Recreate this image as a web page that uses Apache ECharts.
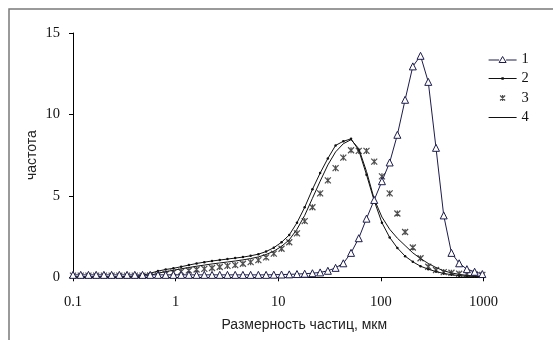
<!DOCTYPE html>
<html>
<head>
<meta charset="utf-8">
<script src="https://cdn.jsdelivr.net/npm/echarts@6/dist/echarts.min.js"></script>
<style>
html,body{margin:0;padding:0;background:#fff;}
#chart{width:553px;height:340px;}
</style>
</head>
<body>
<div id="chart"></div>
<script>
// particle sizes, µm
var sizes = [0.1,0.1189,0.1414,0.1682,0.2,0.2378,0.2828,0.3364,0.4,0.4757,
  0.5657,0.6727,0.8,0.9514,1.1314,1.3454,1.6,1.9027,2.2627,2.6909,
  3.2,3.8055,4.5255,5.3817,6.4,7.611,9.051,10.763,12.8,15.22,
  18.1,21.53,25.6,30.44,36.2,43.05,51.2,60.89,72.41,86.11,
  102.4,121.8,144.8,172.2,204.8,243.5,289.6,344.4,409.6,487.1,
  579.3,688.9,819.2,974.2];
var s1 = [0.15,0.15,0.15,0.15,0.15,0.15,0.15,0.15,0.15,0.15,
  0.15,0.15,0.15,0.15,0.15,0.15,0.15,0.15,0.15,0.15,
  0.15,0.15,0.15,0.15,0.15,0.15,0.16,0.17,0.18,0.2,
  0.22,0.25,0.3,0.4,0.58,0.86,1.5,2.4,3.6,4.75,
  5.9,7.05,8.75,10.9,12.95,13.6,12.0,7.95,3.8,1.5,
  0.86,0.5,0.34,0.2];
var s2 = [0.03,0.03,0.03,0.03,0.03,0.03,0.03,0.05,0.07,0.12,
  0.25,0.38,0.48,0.55,0.65,0.75,0.85,0.93,1.0,1.06,
  1.12,1.18,1.24,1.32,1.42,1.58,1.82,2.15,2.6,3.35,
  4.3,5.4,6.4,7.3,8.1,8.35,8.5,7.8,6.3,4.7,
  3.35,2.45,1.8,1.3,0.95,0.68,0.5,0.35,0.24,0.16,
  0.1,0.07,0.05,0.04];
var s3 = [0.1,0.1,0.1,0.1,0.1,0.1,0.1,0.1,0.1,0.1,
  0.12,0.15,0.2,0.3,0.35,0.42,0.48,0.52,0.57,0.63,
  0.7,0.75,0.83,0.93,1.05,1.22,1.45,1.75,2.15,2.7,
  3.45,4.3,5.15,5.95,6.7,7.35,7.8,7.76,7.76,7.1,
  6.2,5.15,3.92,2.78,1.83,1.17,0.65,0.45,0.32,0.28,
  0.22,0.2,0.18,0.15];
var s4 = [0.02,0.02,0.02,0.02,0.02,0.02,0.02,0.02,0.02,0.06,
  0.12,0.25,0.35,0.43,0.52,0.6,0.68,0.75,0.82,0.88,
  0.94,1.0,1.07,1.15,1.25,1.4,1.6,1.9,2.3,2.95,
  3.8,4.85,5.9,6.9,7.7,8.2,8.45,7.9,6.5,4.8,
  3.7,2.95,2.4,1.95,1.5,1.15,0.85,0.6,0.4,0.27,
  0.18,0.12,0.08,0.05];
var seriesNames = ['1','2','3','4'];
var xTickLabels = ['0.1','1','10','100','1000'];
var yTicks = [0,5,10,15];

function pairs(ys){ return sizes.map(function(x,i){ return [x, ys[i]]; }); }

var navy = '#1c1c4e';
var ink = '#111111';
var serif = 'Liberation Serif';
var sans = 'Liberation Sans';
var starPath = 'path://M0,0 L10,10 M10,0 L0,10 M5,0 L5,10';
var triLinePath = 'path://M0,0 M28,9 M0,5.5 L10.5,5.5 M17.5,5.5 L28,5.5 M14,2 L17.5,8 L10.5,8 Z';
var dotLinePath = 'path://M0,0 M28,9 M0,4 L28,4 L28,5 L0,5 Z M12.8,3.2 L15.2,3.2 L15.2,5.8 L12.8,5.8 Z';
var lineOnlyPath = 'path://M0,0 M28,9 M0,4 L28,4 L28,5 L0,5 Z';
var starLegendPath = 'path://M0,0 M28,9 M11.5,2 L16.5,7 M16.5,2 L11.5,7 M14,1.5 L14,7.5';

var chart = echarts.init(document.getElementById('chart'), null, {renderer:'canvas'});
chart.setOption({
  backgroundColor:'#ffffff',
  animation:false,
  graphic:[{type:'rect', shape:{x:9,y:9,width:600,height:400},
    style:{fill:'none', stroke:'#7a7a7a', lineWidth:1.5}, silent:true}],
  grid:{left:73, top:33, width:410.5, height:244.3, containLabel:false},
  legend:{
    orient:'vertical', left:483, top:46, itemWidth:28, itemHeight:9, itemGap:3.5,
    textStyle:{fontFamily:serif, fontSize:14.5, color:'#111', lineHeight:16},
    data:[
      {name:'1', icon: triLinePath, itemStyle:{color:'#ffffff', borderColor:navy, borderWidth:1}},
      {name:'2', icon: dotLinePath, itemStyle:{color:ink, borderWidth:0}},
      {name:'3', icon: starLegendPath, itemStyle:{color:'#222', borderColor:'#222', borderWidth:1.2}},
      {name:'4', icon: lineOnlyPath, itemStyle:{color:ink, borderWidth:0}}
    ]
  },
  xAxis:{
    type:'log', logBase:10, min:0.1, max:1000,
    name:'Размерность частиц, мкм', nameLocation:'middle', nameGap:41,
    nameTextStyle:{fontFamily:sans, fontSize:14, color:'#222', padding:[0,0,0,52]},
    axisLine:{show:true, lineStyle:{color:'#000', width:1}},
    axisTick:{show:true, inside:false, length:4, lineStyle:{color:'#000'}},
    minorTick:{show:false},
    splitLine:{show:false},
    axisLabel:{margin:17, fontFamily:serif, fontSize:14.5, color:'#111',
      formatter:function(v){
        var lg = Math.round(Math.log10(v));
        return xTickLabels[lg+1] !== undefined ? xTickLabels[lg+1] : String(v);
      }}
  },
  yAxis:{
    type:'value', min:0, max:15, interval:5,
    name:'частота', nameLocation:'middle', nameGap:34, nameRotate:90,
    nameMoveOverlap:false,
    nameTextStyle:{fontFamily:sans, fontSize:14, color:'#222'},
    axisLine:{show:true, lineStyle:{color:'#000', width:1}},
    axisTick:{show:true, inside:false, length:4, lineStyle:{color:'#000'}},
    splitLine:{show:false},
    axisLabel:{margin:13, fontFamily:serif, fontSize:14.5, color:'#111',
      formatter:function(v){ return yTicks.indexOf(v) >= 0 ? String(v) : ''; }}
  },
  series:[
    {name:seriesNames[0], type:'line', data:pairs(s1), z:5,
      symbol:'triangle', symbolSize:7, showAllSymbol:true,
      lineStyle:{color:navy, width:1},
      itemStyle:{color:'#ffffff', borderColor:navy, borderWidth:1}},
    {name:seriesNames[1], type:'line', data:pairs(s2), z:3,
      symbol:'circle', symbolSize:2.5, showAllSymbol:true,
      lineStyle:{color:ink, width:1},
      itemStyle:{color:ink}},
    {name:seriesNames[2], type:'scatter', data:pairs(s3), z:4,
      symbol:starPath, symbolSize:6,
      itemStyle:{color:'#222', borderColor:'#222', borderWidth:1.2}},
    {name:seriesNames[3], type:'line', data:pairs(s4), z:2,
      symbol:'none',
      lineStyle:{color:ink, width:1},
      itemStyle:{color:ink}}
  ]
});
</script>
</body>
</html>
